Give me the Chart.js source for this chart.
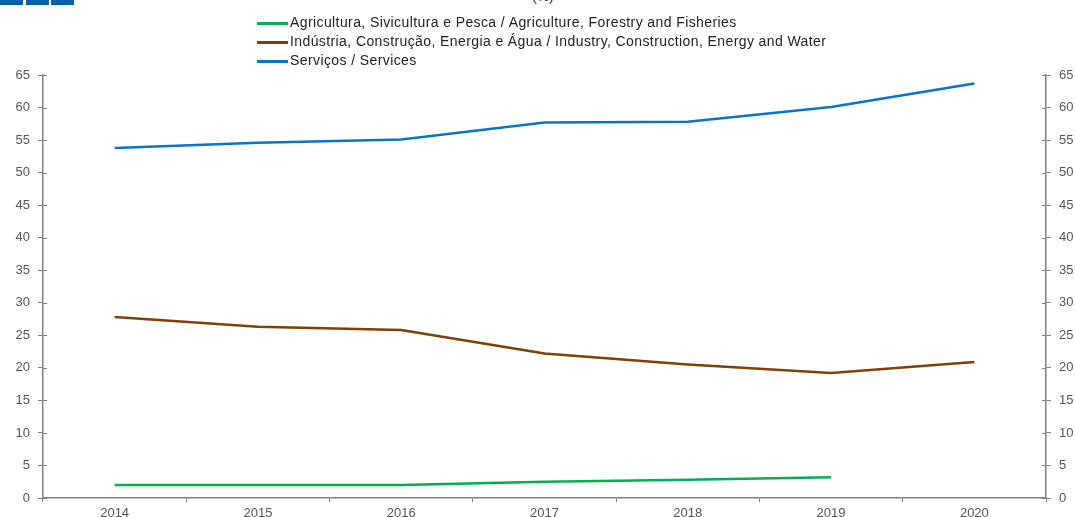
<!DOCTYPE html>
<html lang="pt">
<head>
    <meta charset="UTF-8">
    <title>Estrutura do VAB / GVA structure</title>
    <script src="https://cdn.jsdelivr.net/npm/chart.js"></script>
    <style>
        body {
            margin: 0;
            font-family: "Liberation Sans", Arial, sans-serif;
            background: #fff;
            overflow: hidden;
        }
        .wrap {
            position: absolute;
            left: 0;
            top: 0;
            width: 1075px;
            height: 530px;
        }
        .logo span {
            position: absolute;
            top: -2px;
            width: 23px;
            height: 7px;
            background: #0b5fa5;
        }
        .unit {
            position: absolute;
            top: -12px;
            left: 532px;
            font-size: 14px;
            color: #333;
        }
        .legend {
            position: absolute;
            left: 257px;
            top: 13px;
            font-size: 14px;
            letter-spacing: 0.4px;
            color: #222;
        }
        .legend div {
            height: 19px;
            line-height: 19px;
        }
        .legend i {
            display: inline-block;
            width: 31px;
            height: 3px;
            vertical-align: middle;
            margin-right: 2px;
        }
    </style>
</head>
<body>
    <div class="logo">
        <span style="left:0"></span>
        <span style="left:26px"></span>
        <span style="left:51px"></span>
    </div>
    <div class="unit">(%)</div>
    <div class="wrap"><canvas id="chart"></canvas></div>
    <div class="legend" id="legend"></div>

    <script>
        // values
        const years = ['2014', '2015', '2016', '2017', '2018', '2019', '2020'];
        const agriculture = [2.0, 2.0, 2.0, 2.5, 2.8, 3.2, null];
        const industry = [27.8, 26.3, 25.8, 22.2, 20.5, 19.2, 20.9];
        const services = [53.8, 54.6, 55.1, 57.7, 57.8, 60.1, 63.7];

        const labels = [
            'Agricultura, Sivicultura e Pesca / Agriculture, Forestry and Fisheries',
            'Indústria, Construção, Energia e Água / Industry, Construction, Energy and Water',
            'Serviços / Services'
        ];
        const colors = ['#00b050', '#7f4000', '#0a74c8'];

        const font = { family: '"Liberation Sans", Arial, sans-serif', size: 13 };
        const axisGray = '#808080';

        function yAxis(pos, w) {
            return {
                position: pos,
                min: 0,
                max: 65,
                ticks: { stepSize: 5, color: '#555', font: font, padding: 8 },
                grid: { drawOnChartArea: false, tickLength: 5, color: axisGray },
                border: { color: axisGray, width: 1.5 },
                afterFit: s => { s.width = w; }
            };
        }

        // small marks on the inner side of each axis, like the original
        const innerTicks = {
            id: 'innerTicks',
            afterDraw(chart) {
                const ctx = chart.ctx;
                const a = chart.chartArea;
                ctx.save();
                ctx.strokeStyle = axisGray;
                ctx.lineWidth = 1;
                ctx.beginPath();
                chart.scales.y.ticks.forEach(t => {
                    const py = Math.round(chart.scales.y.getPixelForValue(t.value)) + 0.5;
                    ctx.moveTo(a.left, py); ctx.lineTo(a.left + 4, py);
                    ctx.moveTo(a.right - 4, py); ctx.lineTo(a.right, py);
                });
                ctx.stroke();
                ctx.restore();
            }
        };

        new Chart(document.getElementById('chart'), {
            type: 'line',
            data: {
                labels: years,
                datasets: [agriculture, industry, services].map((d, i) => ({
                    label: labels[i],
                    data: d,
                    borderColor: colors[i],
                    backgroundColor: colors[i],
                    borderWidth: 2.5,
                    pointRadius: 0,
                    tension: 0,
                    yAxisID: 'y'
                }))
            },
            options: {
                responsive: true,
                maintainAspectRatio: false,
                animation: false,
                layout: { padding: { top: 75, left: 0, right: 0, bottom: 0 } },
                plugins: { legend: { display: false }, tooltip: { enabled: false } },
                scales: {
                    x: {
                        offset: true,
                        ticks: { color: '#555', font: font, padding: 4 },
                        grid: { drawOnChartArea: false, offset: true, tickLength: 4, color: axisGray },
                        border: { color: axisGray, width: 1.5 },
                        afterFit: s => { s.height = 32; }
                    },
                    y: yAxis('left', 43),
                    y2: yAxis('right', 29)
                }
            },
            plugins: [innerTicks]
        });

        // legend block, left aligned as in the original
        document.getElementById('legend').innerHTML = labels
            .map((l, i) => `<div><i style="background:${colors[i]}"></i>${l}</div>`)
            .join('');
    </script>
</body>
</html>
